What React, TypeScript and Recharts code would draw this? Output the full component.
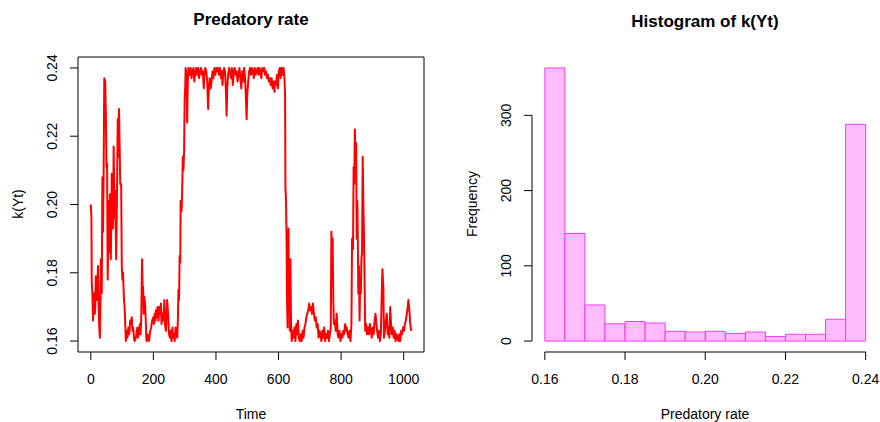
import React from 'react';
import { LineChart, Line, XAxis, YAxis, ReferenceArea, ReferenceLine, ComposedChart } from 'recharts';

const FONT = '"Liberation Sans", Arial, Helvetica, sans-serif';

// Time series k(Yt): [time, rate] pairs
const earlyBurst: [number, number][] = [
  [0, 0.200], [2, 0.196], [3, 0.177], [5, 0.174], [7, 0.166], [9, 0.171], [11, 0.174], [13, 0.168], [14, 0.170], [16, 0.179],
  [19, 0.172], [21, 0.176], [23, 0.182], [25, 0.170], [27, 0.164], [29, 0.161], [31, 0.172], [32, 0.184], [34, 0.175], [35, 0.174],
  [37, 0.208], [39, 0.192], [41, 0.210], [43, 0.237], [46, 0.236], [48, 0.227], [50, 0.211], [52, 0.212], [54, 0.178], [57, 0.201],
  [59, 0.186], [61, 0.203], [64, 0.184], [67, 0.209], [69, 0.204], [71, 0.193], [73, 0.217], [76, 0.196], [78, 0.204], [81, 0.184],
  [83, 0.197], [86, 0.225], [88, 0.214], [90, 0.228], [92, 0.218], [94, 0.206], [97, 0.206], [99, 0.182], [101, 0.178], [103, 0.180],
  [106, 0.172], [108, 0.170],
];

const earlyLow: [number, number][] = [
  [112, 0.160], [115, 0.163], [117, 0.161], [120, 0.164], [123, 0.162], [126, 0.166], [128, 0.165], [131, 0.167], [133, 0.163], [135, 0.164],
  [138, 0.161], [140, 0.160], [144, 0.161], [147, 0.163], [149, 0.164], [151, 0.161], [153, 0.162], [157, 0.165], [159, 0.162], [161, 0.166],
  [163, 0.178], [164, 0.184], [166, 0.172], [167, 0.176], [169, 0.168], [171, 0.173], [174, 0.170], [176, 0.165], [178, 0.160], [181, 0.162],
  [183, 0.161], [186, 0.160], [187, 0.161], [190, 0.163], [193, 0.164], [196, 0.166], [200, 0.167], [202, 0.165], [204, 0.168], [207, 0.166],
  [208, 0.169], [211, 0.167], [213, 0.170], [216, 0.166], [219, 0.170], [222, 0.168], [224, 0.171], [226, 0.165], [229, 0.168], [232, 0.166],
  [235, 0.172], [237, 0.165], [240, 0.163], [244, 0.172], [247, 0.168], [250, 0.162], [253, 0.161], [255, 0.163], [258, 0.160], [261, 0.164],
  [263, 0.161], [266, 0.162], [268, 0.160], [271, 0.164], [273, 0.163], [276, 0.161], [278, 0.165],
];

const riseUp: [number, number][] = [
  [280, 0.175], [282, 0.172], [284, 0.185], [286, 0.183], [287, 0.201], [290, 0.198], [292, 0.204], [294, 0.214], [296, 0.210], [298, 0.215],
  [300, 0.231], [302, 0.235], [303, 0.240], [306, 0.238], [308, 0.224], [310, 0.236], [312, 0.240], [314, 0.239],
];

const highPlateau: [number, number][] = [
  [316, 0.238], [319, 0.240], [322, 0.237], [325, 0.239], [328, 0.240], [331, 0.236], [334, 0.239], [337, 0.240], [340, 0.238], [343, 0.240],
  [346, 0.237], [349, 0.239], [352, 0.240], [355, 0.238], [358, 0.239], [361, 0.234], [363, 0.238], [366, 0.240], [369, 0.239], [372, 0.236],
  [375, 0.228], [377, 0.233], [380, 0.237], [383, 0.234], [386, 0.236], [389, 0.239], [392, 0.237], [395, 0.240], [398, 0.238], [401, 0.240],
  [404, 0.239], [407, 0.240], [410, 0.238], [413, 0.240], [416, 0.237], [419, 0.239], [421, 0.235], [423, 0.238], [426, 0.240], [429, 0.239],
  [432, 0.233], [434, 0.226], [436, 0.234], [439, 0.238], [442, 0.240], [445, 0.239], [448, 0.237], [451, 0.240], [454, 0.235], [457, 0.239],
  [460, 0.240], [463, 0.238], [466, 0.239], [469, 0.236], [472, 0.238], [475, 0.240], [478, 0.237], [481, 0.234], [484, 0.239], [487, 0.236],
  [490, 0.240], [493, 0.237], [495, 0.233], [498, 0.225], [500, 0.232], [503, 0.236], [506, 0.239], [509, 0.240], [512, 0.238], [515, 0.240],
  [518, 0.239], [521, 0.237], [524, 0.240], [527, 0.238], [530, 0.239], [533, 0.240], [536, 0.238], [539, 0.240], [542, 0.239], [545, 0.237],
  [548, 0.240], [551, 0.239], [554, 0.240], [557, 0.238], [560, 0.239], [563, 0.237], [566, 0.238], [569, 0.236], [572, 0.237], [575, 0.235],
  [578, 0.237], [581, 0.234], [584, 0.236], [587, 0.233], [589, 0.236], [592, 0.235], [595, 0.238], [598, 0.234], [601, 0.239], [604, 0.240],
  [607, 0.237], [610, 0.240], [613, 0.238], [616, 0.240], [619, 0.237],
];

const dropDown: [number, number][] = [
  [621, 0.232], [622, 0.205], [624, 0.201], [626, 0.187], [627, 0.172], [629, 0.164], [630, 0.180], [632, 0.193], [633, 0.170], [635, 0.183],
  [636, 0.163], [638, 0.184], [640, 0.165],
];

const lateLow: [number, number][] = [
  [642, 0.160], [645, 0.163], [648, 0.161], [651, 0.164], [654, 0.160], [657, 0.165], [660, 0.162], [662, 0.166], [665, 0.161], [668, 0.160],
  [671, 0.162], [674, 0.160], [677, 0.163], [680, 0.161], [683, 0.164], [686, 0.165], [689, 0.167], [692, 0.168], [695, 0.169], [698, 0.171],
  [701, 0.169], [704, 0.170], [707, 0.168], [710, 0.171], [713, 0.168], [716, 0.166], [719, 0.167], [722, 0.164], [725, 0.165], [728, 0.161],
  [731, 0.163], [734, 0.162], [737, 0.160], [740, 0.163], [743, 0.161], [746, 0.164], [749, 0.160], [752, 0.162], [755, 0.161], [758, 0.163],
  [761, 0.160], [764, 0.162], [767, 0.164], [769, 0.192], [771, 0.186], [773, 0.190], [775, 0.172], [777, 0.165], [780, 0.166], [783, 0.163],
  [786, 0.168], [789, 0.162], [792, 0.161], [795, 0.163], [798, 0.160], [801, 0.162], [804, 0.161], [807, 0.163], [810, 0.162], [813, 0.165],
  [816, 0.163], [818, 0.164], [821, 0.162], [824, 0.161], [827, 0.163], [830, 0.160], [833, 0.165],
];

const lateBursts: [number, number][] = [
  [835, 0.190], [838, 0.187], [840, 0.211], [842, 0.206], [844, 0.222], [846, 0.214], [848, 0.218], [850, 0.190], [852, 0.201], [854, 0.185],
  [855, 0.174], [857, 0.182], [859, 0.166], [861, 0.177], [863, 0.174], [865, 0.184], [867, 0.186], [869, 0.214], [871, 0.201], [873, 0.192],
  [875, 0.178], [877, 0.163],
];

const lateTail: [number, number][] = [
  [880, 0.165], [883, 0.162], [886, 0.164], [889, 0.162], [892, 0.165], [895, 0.163], [898, 0.161], [901, 0.164], [904, 0.162], [907, 0.166],
  [910, 0.168], [912, 0.166], [915, 0.163], [918, 0.161], [921, 0.163], [924, 0.160], [927, 0.162], [930, 0.174], [932, 0.181], [935, 0.176],
  [937, 0.161], [940, 0.163], [943, 0.166], [946, 0.168], [949, 0.162], [951, 0.164], [954, 0.161], [957, 0.170], [959, 0.166], [962, 0.162],
  [965, 0.164], [968, 0.161], [971, 0.163], [974, 0.160], [977, 0.162], [980, 0.161], [983, 0.160], [986, 0.162], [989, 0.160], [992, 0.163],
  [995, 0.162], [998, 0.164], [1001, 0.163], [1004, 0.165], [1007, 0.166], [1010, 0.168], [1013, 0.170], [1015, 0.172], [1017, 0.170], [1019, 0.168],
  [1021, 0.165], [1024, 0.163],
];

const timeTicks = [0, 200, 400, 600, 800, 1000];
const rateTicks = [0.16, 0.18, 0.2, 0.22, 0.24];

// Histogram of k(Yt)
const binStarts = [0.160, 0.165, 0.170, 0.175, 0.180, 0.185, 0.190, 0.195, 0.200, 0.205, 0.210, 0.215, 0.220, 0.225, 0.230, 0.235];
const binCounts = [363, 143, 48, 23, 26, 24, 13, 12, 13, 10, 12, 6, 9, 9, 29, 288];
const BIN_WIDTH = 0.005;
const freqTicks = [0, 100, 200, 300];
const predTicks = [0.16, 0.18, 0.2, 0.22, 0.24];

const seriesPairs = [...earlyBurst, ...earlyLow, ...riseUp, ...highPlateau, ...dropDown, ...lateLow, ...lateBursts, ...lateTail];
const series = seriesPairs.map(([t, v]) => ({ t, v }));

const padRange = (lo: number, hi: number): [number, number] => {
  const r = hi - lo;
  return [lo - 0.04 * r, hi + 0.04 * r];
};

const ts = series.map((d) => d.t);
const vs = series.map((d) => d.v);
const xDomL = padRange(Math.min(...ts), Math.max(...ts));
const yDomL = padRange(Math.min(...vs), Math.max(...vs));

const bins = binStarts.map((s, i) => ({ start: s, end: s + BIN_WIDTH, mid: s + BIN_WIDTH / 2, count: binCounts[i] }));
const xDomR = padRange(binStarts[0], binStarts[binStarts.length - 1] + BIN_WIDTH);
const yDomR = padRange(0, Math.max(...binCounts));

const TICK_FS = 14;
const fmt2 = (v: number) => v.toFixed(2);
const fmt0 = (v: number) => String(Math.round(v));

const xTick = (fmt: (v: number) => string) => (props: any) => {
  const { x, y, payload } = props;
  return (
    <text x={x} y={y + 18.5} textAnchor="middle" dominantBaseline="central" fontSize={TICK_FS} fontFamily={FONT} fill="#000">
      {fmt(payload.value)}
    </text>
  );
};

const yTick = (fmt: (v: number) => string) => (props: any) => {
  const { x, y, payload } = props;
  const cx = x - 18;
  return (
    <text x={cx} y={y} transform={`rotate(-90 ${cx} ${y})`} textAnchor="middle" dominantBaseline="central" fontSize={TICK_FS} fontFamily={FONT} fill="#000">
      {fmt(payload.value)}
    </text>
  );
};

const Label = ({ text, cx, cy, rotate = false, bold = false, size = TICK_FS }: any) => (
  <div
    style={{
      position: 'absolute',
      left: cx,
      top: cy,
      transform: `translate(-50%, -50%)${rotate ? ' rotate(-90deg)' : ''}`,
      whiteSpace: 'nowrap',
      fontSize: size,
      lineHeight: 1,
      fontWeight: bold ? 'bold' : 'normal',
      fontFamily: FONT,
      color: '#000',
    }}
  >
    {text}
  </div>
);

export default function App() {
  return (
    <div style={{ position: 'absolute', left: 0, top: 0, width: 880, height: 422, background: '#fff', overflow: 'hidden' }}>
      <div style={{ position: 'absolute', left: 0, top: 0 }}>
        <LineChart width={440} height={422} data={series} margin={{ top: 57, right: 16, bottom: 0, left: 0 }}>
          <XAxis
            dataKey="t"
            type="number"
            domain={xDomL}
            allowDataOverflow
            ticks={timeTicks}
            interval={0}
            height={70}
            axisLine={false}
            tickLine={{ stroke: '#000' }}
            tickSize={8}
            tickMargin={0}
            tick={xTick(fmt0)}
          />
          <YAxis
            type="number"
            domain={yDomL}
            allowDataOverflow
            ticks={rateTicks}
            interval={0}
            width={78}
            axisLine={false}
            tickLine={{ stroke: '#000' }}
            tickSize={8}
            tickMargin={0}
            tick={yTick(fmt2)}
          />
          <Line dataKey="v" type="linear" stroke="#FF0000" strokeWidth={2} dot={false} activeDot={false} isAnimationActive={false} strokeLinejoin="round" />
          <ReferenceArea x1={xDomL[0]} x2={xDomL[1]} y1={yDomL[0]} y2={yDomL[1]} fill="none" fillOpacity={0} stroke="#000" strokeWidth={1} ifOverflow="visible" />
        </LineChart>
      </div>
      <div style={{ position: 'absolute', left: 440, top: 0 }}>
        <ComposedChart width={440} height={422} data={bins} margin={{ top: 57, right: 1.5, bottom: 0, left: 0 }}>
          <XAxis
            dataKey="mid"
            type="number"
            domain={xDomR}
            allowDataOverflow
            ticks={predTicks}
            interval={0}
            height={70}
            axisLine={false}
            tickLine={{ stroke: '#000' }}
            tickSize={8}
            tickMargin={0}
            tick={xTick(fmt2)}
          />
          <YAxis
            type="number"
            domain={yDomR}
            allowDataOverflow
            ticks={freqTicks}
            interval={0}
            width={92}
            axisLine={false}
            tickLine={{ stroke: '#000' }}
            tickSize={8}
            tickMargin={0}
            tick={yTick(fmt0)}
          />
          <Line dataKey="count" stroke="none" dot={false} activeDot={false} isAnimationActive={false} />
          {bins.map((b) => (
            <ReferenceArea
              key={b.start}
              x1={b.start}
              x2={b.end}
              y1={0}
              y2={b.count}
              fill="#FFBBFF"
              fillOpacity={1}
              stroke="#F03CF0"
              strokeWidth={1}
              ifOverflow="visible"
            />
          ))}
          <ReferenceLine
            segment={[{ x: predTicks[0], y: yDomR[0] }, { x: predTicks[predTicks.length - 1], y: yDomR[0] }]}
            stroke="#000"
            ifOverflow="visible"
          />
          <ReferenceLine
            segment={[{ x: xDomR[0], y: freqTicks[0] }, { x: xDomR[0], y: freqTicks[freqTicks.length - 1] }]}
            stroke="#000"
            ifOverflow="visible"
          />
        </ComposedChart>
      </div>
      <Label text="Predatory rate" cx={251} cy={19} bold size={17} />
      <Label text="Histogram of k(Yt)" cx={705} cy={21} bold size={17} />
      <Label text="Time" cx={251} cy={414} />
      <Label text="Predatory rate" cx={705} cy={414} />
      <Label text="k(Yt)" cx={18} cy={204} rotate />
      <Label text="Frequency" cx={472} cy={204} rotate />
    </div>
  );
}
